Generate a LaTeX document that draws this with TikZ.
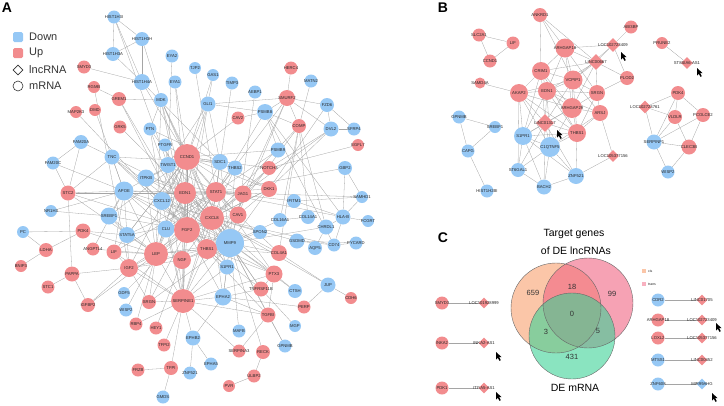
\documentclass[tikz,border=0pt]{standalone}
\usepackage{fontspec}
\setmainfont{Liberation Sans}
\usetikzlibrary{shapes.geometric,arrows.meta}
\pgfdeclarelayer{bg}
\pgfsetlayers{bg,main}
\definecolor{nb}{RGB}{150,200,245}
\definecolor{nr}{RGB}{242,140,142}
\definecolor{eg}{RGB}{165,165,165}
\definecolor{vl}{RGB}{248,160,110}
\definecolor{vr}{RGB}{240,100,130}
\definecolor{vg}{RGB}{60,210,150}
\tikzset{
 nd/.style={circle,inner sep=0pt,draw=none},
 dm/.style={diamond,inner sep=0pt,draw=none,aspect=1},
 lb/.style={font=\fontsize{4.2}{4.5}\selectfont,text=black!85,inner sep=0pt},
 ed/.style={draw=eg,line width=0.3pt},
 leg/.style={font=\fontsize{11}{12}\selectfont,text=black!80,anchor=west,inner sep=0pt},
 pl/.style={font=\fontsize{14}{14}\selectfont\bfseries,inner sep=0pt},
 vt/.style={font=\fontsize{10.5}{12}\selectfont,inner sep=0pt},
 vn/.style={font=\fontsize{7.5}{8}\selectfont,inner sep=0pt,text=black!80},
}
\newcommand\NB[5]{\node[nd,fill=nb,minimum size=#4pt,label={[lb]center:#5}] (#1) at (#2,#3) {};}
\newcommand\NR[5]{\node[nd,fill=nr,minimum size=#4pt,label={[lb]center:#5}] (#1) at (#2,#3) {};}
\newcommand\DR[5]{\node[dm,fill=nr,minimum size=#4pt,label={[lb]center:#5}] (#1) at (#2,#3) {};}
\newcommand\DB[5]{\node[dm,fill=nb,minimum size=#4pt,label={[lb]center:#5}] (#1) at (#2,#3) {};}
\newcommand\curs[2]{\fill[black] (#1,#2) -- ++(0,7.5) -- ++(1.8,-1.7) -- ++(1.7,3) -- ++(1.3,-0.7) -- ++(-1.7,-3) -- ++(2.5,0) -- cycle;}
\begin{document}
\begin{tikzpicture}[x=1pt,y=-1pt]
\useasboundingbox (0,0) rectangle (724,405);
% ---------------- Panel A ----------------
\node[pl] (labA) at (7,8) {A};
\node[fill=nb,rounded corners=1.5pt,minimum size=10pt,inner sep=0] (lg1) at (18,37) {};
\node[fill=nr,rounded corners=1.5pt,minimum size=10pt,inner sep=0] (lg2) at (18,53) {};
\node[diamond,draw=black!80,line width=0.6pt,minimum size=10pt,inner sep=0] (lg3) at (18,70) {};
\node[circle,draw=black!80,line width=0.6pt,minimum size=10pt,inner sep=0] (lg4) at (18,86) {};
\node[leg] (lt1) at (29,37) {Down};
\node[leg] (lt2) at (29,53) {Up};
\node[leg] (lt3) at (29,70) {lncRNA};
\node[leg] (lt4) at (29,86) {mRNA};

\NB{H3I}{114}{17}{13}{HIST1H3I}
\NB{H3H}{142}{39}{14}{HIST1H3H}
\NB{H3A}{113}{54}{14}{HIST1H3A}
\NB{H4A}{142}{82}{16}{HIST1H4A}
\NB{EYA2}{172}{56}{13}{EYA2}
\NB{EYA1}{175}{82}{13}{EYA1}
\NR{SMYD3}{84}{67}{13}{SMYD3}
\NR{RGMB}{94}{87}{12}{RGMB}
\NR{GREM1}{119}{99}{14}{GREM1}
\NB{MDK}{161}{100}{14}{MDK}
\NR{MAP2K3}{76}{112}{12}{MAP2K3}
\NR{DMD}{95}{110}{12}{DMD}
\NR{GRK5}{120}{127}{13}{GRK5}
\NB{PTN}{150}{129}{13}{PTN}
\NB{TJP2}{195}{68}{12}{TJP2}
\NB{GAS1}{213}{75}{12}{GAS1}
\NB{THBD}{232}{83}{13}{TIMP3}
\NB{AEBP1}{255}{92}{13}{AEBP1}
\NR{SMURF2}{287}{98}{16}{SMURF2}
\NR{HERC4}{291}{68}{13}{HERC4}
\NB{MATN2}{311}{81}{13}{MATN2}
\NB{GLI1}{208}{104}{15}{GLI1}
\NR{CAV2}{238}{118}{13}{CAV2}
\NB{PSMB8}{265}{112}{16}{PSMB8}
\NR{COMP}{299}{126}{14}{COMP}
\NB{FZD6}{327}{105}{14}{FZD6}
\NB{DVL2}{331}{129}{15}{DVL2}
\NB{SFRP4}{354}{129}{13}{SFRP4}
\NR{EGFL7}{358}{145}{12}{EGFL7}
\NB{FAM20A}{81}{142}{14}{FAM20A}
\NB{FAM20C}{53}{163}{13}{FAM20C}
\NB{TNC}{112}{157}{15}{TNC}
\NB{PTGFR}{165}{145}{13}{PTGFR}
\NR{CCND1}{187}{157}{26}{CCND1}
\NB{TWIST1}{168}{165}{16}{TWIST1}
\NB{ITPKB}{146}{178}{17}{ITPKB}
\NR{STC2}{68}{193}{15}{STC2}
\NB{APOE}{124}{191}{19}{APOE}
\NR{EDN1}{185}{193}{22}{EDN1}
\NB{CXCL12}{162}{201}{18}{CXCL12}
\NB{NR1H3}{51}{211}{12}{NR1H3}
\NB{SREBF1}{109}{216}{17}{SREBF1}
\NB{CLU}{166}{229}{17}{CLU}
\NR{FGF2}{187}{230}{26}{FGF2}
\NB{STAT5A}{127}{235}{16}{STAT5A}
\NB{PC}{23}{232}{12}{PC}
\NR{PDK4}{83}{231}{15}{PDK4}
\NR{ANGPTL4}{93}{249}{13}{ANGPTL4}
\NR{LIF}{114}{252}{15}{LIF}
\NR{LDHA}{46}{250}{14}{LDHA}
\NR{LEP}{156}{254}{24}{LEP}
\NR{NGF}{182}{260}{18}{NGF}
\NR{BNIP3}{21}{266}{12}{BNIP3}
\NR{IGF2}{129}{268}{18}{IGF2}
\NB{PSMB6}{278}{150}{15}{PSMB9}
\NB{SDC1}{220}{162}{16}{SDC1}
\NB{THBS2}{235}{168}{15}{THBS2}
\NR{NOTCH3}{269}{168}{14}{NOTCH3}
\NB{GBP2}{345}{168}{14}{GBP2}
\NR{STAT1}{216}{192}{20}{STAT1}
\NR{JAG1}{243}{194}{17}{JAG1}
\NR{DKK1}{269}{189}{16}{DKK1}
\NB{IFITM1}{294}{201}{14}{IFITM1}
\NB{SAMHD1}{362}{197}{12}{SAMHD1}
\NR{CXCL8}{212}{218}{24}{CXCL8}
\NR{CAV1}{238}{215}{17}{CAV1}
\NB{COL16A1}{280}{220}{14}{COL16A1}
\NB{COL14A1}{308}{217}{14}{COL14A1}
\NB{HLAB}{343}{217}{15}{HLA-B}
\NB{PCGRT}{368}{221}{12}{FCGRT}
\NB{SPON2}{260}{232}{14}{SPON2}
\NB{CHRDL1}{326}{227}{15}{CHRDL1}
\NB{MMP9}{230}{243}{28}{MMP9}
\NB{GSDMD}{297}{241}{15}{GSDMD}
\NB{AQP5}{315}{248}{14}{AQP5}
\NB{CD74}{334}{245}{13}{CD74}
\NB{PYCARD}{356}{243}{13}{PYCARD}
\NR{THBS1}{207}{249}{20}{THBS1}
\NR{COL4A1}{279}{253}{16}{COL4A1}
\NB{S1PR1}{227}{267}{15}{S1PR1}
\NR{PAPPA}{72}{274}{15}{PAPPA}
\NR{STC1}{48}{287}{13}{STC1}
\NB{GDF5}{124}{293}{12}{GDF5}
\NR{SRGN}{149}{302}{14}{SRGN}
\NR{SERPINE1}{183}{301}{24}{SERPINE1}
\NR{IGFBP2}{88}{305}{14}{IGFBP2}
\NB{WISP2}{126}{310}{13}{WISP2}
\NR{RBP4}{136}{324}{13}{RBP4}
\NR{HEY1}{156}{328}{13}{HEY1}
\NR{TFPI2}{164}{345}{13}{TFPI2}
\NR{TFPI}{171}{368}{14}{TFPI}
\NR{FRZB}{138}{370}{13}{FRZB}
\NB{GMDS}{163}{397}{13}{GMDS}
\NR{PTX3}{274}{274}{17}{PTX3}
\NB{EPHA2}{223}{297}{17}{EPHA2}
\NR{TNFR}{261}{289}{15}{TNFRSF11B}
\NB{CTSH}{295}{291}{14}{CTSH}
\NB{JUP}{328}{285}{15}{JUP}
\NR{CDH6}{351}{298}{12}{CDH6}
\NR{PERP}{304}{307}{13}{PERP}
\NR{TGFB}{268}{315}{15}{TGFBI}
\NB{MAFB}{239}{331}{13}{MAFB}
\NB{MGP}{295}{326}{12}{MGP}
\NB{EPHB2}{193}{338}{15}{EPHB2}
\NR{SERPINA3}{239}{351}{13}{SERPINA3}
\NR{RECK}{263}{352}{14}{RECK}
\NB{GPNMB}{285}{346}{13}{GPNMB}
\NB{EPHA5}{211}{364}{13}{EPHA5}
\NB{ZNF521}{190}{373}{13}{ZNF521}
\NR{ULBP2}{254}{376}{13}{ULBP2}
\NR{PVR}{229}{386}{12}{PVR}

\begin{pgfonlayer}{bg}
\foreach \a/\b in {H3I/H3H,H3I/H3A,H3I/H4A,H3H/H3A,H3H/H4A,H3A/H4A,H3I/TWIST1,H3H/MDK,H4A/CCND1,H4A/SMYD3,H4A/SDC1,
EYA2/TWIST1,EYA1/CCND1,EYA1/EDN1,TJP2/STAT1,GAS1/CCND1,GAS1/GLI1,THBD/CXCL8,AEBP1/CAV1,HERC4/SMURF2,
SMURF2/GLI1,SMURF2/FZD6,SMURF2/PSMB8,SMURF2/DVL2,SMURF2/COMP,SMURF2/JAG1,SMURF2/CAV1,SMURF2/STAT1,MATN2/COMP,
GLI1/CCND1,GLI1/PSMB8,GLI1/TWIST1,GLI1/EDN1,GLI1/FGF2,GLI1/SDC1,CAV2/CCND1,CAV2/PSMB8,
PSMB8/PSMB6,PSMB8/STAT1,PSMB8/CD74,PSMB8/HLAB,PSMB8/COMP,COMP/THBS1,COMP/CXCL8,COMP/CHRDL1,COMP/COL4A1,
FZD6/DVL2,FZD6/DKK1,DVL2/SFRP4,DVL2/DKK1,DVL2/JAG1,DVL2/NOTCH3,SFRP4/FZD6,EGFL7/NOTCH3,
MDK/PTN,MDK/GREM1,MDK/CCND1,MDK/FGF2,MDK/EDN1,MDK/LEP,MDK/CXCL8,MDK/MMP9,PTN/FGF2,PTN/CXCL12,PTN/SDC1,PTN/MMP9,
GREM1/FGF2,GREM1/THBS1,RGMB/GREM1,RGMB/IGF2,MAP2K3/FGF2,DMD/APOE,GRK5/CXCL8,
FAM20A/FAM20C,FAM20A/STC2,FAM20A/TNC,FAM20C/STC2,FAM20C/APOE,
TNC/MMP9,TNC/EDN1,TNC/FGF2,TNC/CXCL12,TNC/STC2,TNC/SDC1,TNC/APOE,
PTGFR/CCND1,PTGFR/FGF2,PTGFR/TWIST1,TWIST1/CCND1,TWIST1/FGF2,TWIST1/CXCL12,TWIST1/EDN1,TWIST1/MMP9,TWIST1/SERPINE1,TWIST1/STAT1,
ITPKB/CCND1,ITPKB/EDN1,ITPKB/STAT1,ITPKB/CXCL8,ITPKB/LEP,
STC2/APOE,STC2/PAPPA,STC2/EDN1,STC2/FGF2,STC2/LEP,
APOE/SREBF1,APOE/LEP,APOE/CLU,APOE/CCND1,APOE/EDN1,APOE/MMP9,APOE/STAT5A,APOE/LIF,APOE/CXCL8,APOE/FGF2,APOE/STAT1,NR1H3/SREBF1,NR1H3/APOE,
CXCL12/CCND1,CXCL12/EDN1,CXCL12/FGF2,CXCL12/MMP9,CXCL12/CXCL8,CXCL12/LEP,CXCL12/SERPINE1,CXCL12/STAT1,CXCL12/THBS1,
SREBF1/LEP,SREBF1/STAT5A,SREBF1/CCND1,SREBF1/FGF2,
CLU/FGF2,CLU/LEP,CLU/MMP9,CLU/SERPINE1,CLU/STAT1,CLU/EDN1,
STAT5A/LEP,STAT5A/CCND1,STAT5A/STAT1,STAT5A/IGF2,STAT5A/CXCL8,
PC/PDK4,PC/LDHA,PDK4/STAT5A,PDK4/LEP,PDK4/LDHA,ANGPTL4/APOE,ANGPTL4/LEP,
LIF/LEP,LIF/CCND1,LIF/IGF2,LIF/SERPINE1,LIF/STAT1,LDHA/BNIP3,
LEP/FGF2,LEP/CCND1,LEP/EDN1,LEP/MMP9,LEP/CXCL8,LEP/STAT1,LEP/NGF,LEP/SERPINE1,LEP/IGF2,LEP/THBS1,
NGF/FGF2,NGF/MMP9,NGF/SERPINE1,NGF/CXCL8,NGF/IGF2,NGF/EDN1,
IGF2/PAPPA,IGF2/IGFBP2,IGF2/FGF2,IGF2/SERPINE1,IGF2/MMP9,IGF2/CCND1,IGF2/SRGN,
PAPPA/STC1,PAPPA/IGFBP2,IGFBP2/LEP,GDF5/FGF2,SRGN/SERPINE1,SRGN/FGF2,SRGN/LEP,SRGN/MMP9,WISP2/LEP,
RBP4/LEP,RBP4/SERPINE1,HEY1/NGF,TFPI2/SERPINE1,TFPI/SERPINE1,TFPI/FRZB,TFPI/GMDS,
SERPINE1/FGF2,SERPINE1/MMP9,SERPINE1/THBS1,SERPINE1/CXCL8,SERPINE1/EPHA2,SERPINE1/EDN1,SERPINE1/STAT1,SERPINE1/TGFB,SERPINE1/CCND1,SERPINE1/S1PR1,SERPINE1/SERPINA3,SERPINE1/PTX3,SERPINE1/EPHB2,
EPHA2/MMP9,EPHA2/S1PR1,EPHA2/CXCL8,EPHA2/TNFR,EPHA2/FGF2,EPHA2/PERP,EPHB2/EPHA5,EPHB2/ZNF521,EPHB2/EPHA2,
MAFB/MMP9,SERPINA3/TGFB,RECK/MMP9,RECK/ULBP2,ULBP2/PVR,
TGFB/MMP9,TGFB/FGF2,TGFB/PTX3,TGFB/GPNMB,TGFB/EPHA2,GPNMB/MMP9,MGP/TNFR,PERP/JUP,CDH6/JUP,JUP/COL4A1,JUP/CXCL8,
CTSH/PTX3,CTSH/MMP9,TNFR/PTX3,TNFR/MMP9,TNFR/FGF2,TNFR/CXCL8,
PTX3/MMP9,PTX3/CXCL8,PTX3/FGF2,PTX3/STAT1,PTX3/THBS1,
S1PR1/MMP9,S1PR1/FGF2,S1PR1/EDN1,S1PR1/CXCL8,
COL4A1/MMP9,COL4A1/CAV1,COL4A1/THBS1,COL4A1/CXCL8,SPON2/MMP9,SPON2/CXCL8,
GSDMD/PYCARD,GSDMD/CXCL8,GSDMD/CD74,AQP5/CHRDL1,CD74/HLAB,CD74/CXCL8,PYCARD/CD74,
HLAB/GBP2,HLAB/IFITM1,HLAB/SAMHD1,HLAB/STAT1,HLAB/PCGRT,GBP2/STAT1,GBP2/SAMHD1,SAMHD1/IFITM1,SAMHD1/STAT1,IFITM1/STAT1,
COL16A1/COL14A1,COL16A1/MMP9,COL16A1/COMP,COL14A1/COMP,CHRDL1/HLAB,CHRDL1/MMP9,
DKK1/CCND1,DKK1/STAT1,DKK1/CXCL8,DKK1/MMP9,DKK1/CAV1,DKK1/FGF2,DKK1/SDC1,
NOTCH3/JAG1,NOTCH3/CCND1,NOTCH3/CXCL8,
JAG1/STAT1,JAG1/CCND1,JAG1/MMP9,JAG1/CXCL8,JAG1/FGF2,JAG1/CAV1,JAG1/EDN1,
CAV1/CXCL8,CAV1/MMP9,CAV1/FGF2,CAV1/STAT1,CAV1/EDN1,CAV1/CCND1,CAV1/THBS1,
THBS2/MMP9,THBS2/FGF2,THBS2/CXCL8,THBS2/CCND1,SDC1/CCND1,SDC1/FGF2,SDC1/MMP9,SDC1/CXCL8,SDC1/STAT1,
PSMB6/STAT1,PSMB6/CCND1,
CCND1/EDN1,CCND1/FGF2,CCND1/CXCL8,CCND1/STAT1,CCND1/MMP9,CCND1/LEP,CCND1/THBS1,
EDN1/FGF2,EDN1/CXCL8,EDN1/STAT1,EDN1/MMP9,EDN1/THBS1,
FGF2/CXCL8,FGF2/MMP9,FGF2/THBS1,FGF2/STAT1,CXCL8/STAT1,CXCL8/MMP9,CXCL8/THBS1,STAT1/MMP9,MMP9/THBS1,THBS1/LEP,THBS1/NGF,THBS1/S1PR1}
{\draw[ed] (\a) -- (\b);}
\end{pgfonlayer}

% ---------------- Panel B ----------------
\node[pl] (labB) at (443,8) {B};
\NR{bSLC}{479}{35}{13}{SLC2A1}
\NR{bLIF}{513}{43}{13}{LIF}
\NR{bCCND}{490}{61}{13}{CCND1}
\NR{bSAMD}{480}{83}{11}{SAMD4A}
\NR{bANK}{540}{15}{14}{ANKRD1}
\NR{bCRIM}{541}{71}{18}{CRIM1}
\NR{bAKAP}{519}{93}{18}{AKAP2}
\NR{bEDN}{547}{91}{18}{EDN1}
\NB{bGPN}{459}{117}{13}{GPNMB}
\NR{bABI}{631}{27}{13}{ABI3BP}
\DR{bL409}{613}{45}{14}{LOC102723409}
\NR{bA18}{565}{48}{19}{ARHGAP18}
\DR{bL667}{596}{62}{16}{LINC00667}
\NR{bVCP}{573}{80}{19}{VCPIP1}
\NR{bPLOD}{627}{78}{14}{PLOD2}
\NR{bSRGN}{597}{93}{16}{SRGN}
\NR{bPRU}{662}{43}{12}{PRUNE2}
\DR{bST8}{687}{63}{12}{ST8SIA6-AS1}
\NR{bPDK}{678}{93}{14}{PDK4}
\NR{bA29}{572}{108}{20}{ARHGAP29}
\NR{bARSJ}{600}{113}{16}{ARSJ}
\DR{bL761}{645}{107}{13}{LOC102723761}
\NR{bVLD}{675}{117}{14}{VLDLR}
\NR{bPCO}{703}{115}{14}{PCOLCE2}
\NB{bSRE}{495}{127}{12}{SREBF1}
\NB{bCAPG}{468}{151}{13}{CAPG}
\NB{bH2BI}{487}{191}{13}{HIST1H2BI}
\DR{bL1317}{545}{123}{18}{LINC01317}
\NB{bS1P}{523}{136}{18}{S1PR1}
\NB{bC1Q}{550}{147}{20}{C1QTNF5}
\NB{bST6}{518}{170}{14}{ST6GAL1}
\NB{bBACH}{544}{187}{15}{BACH2}
\NR{bTHBS}{577}{133}{18}{THBS1}
\NB{bZNF}{576}{176}{16}{ZNF521}
\DR{bL156}{613}{156}{12}{LOC105377156}
\NB{bSERF}{654}{142}{15}{SERPINF1}
\NR{bCLEC}{689}{147}{15}{CLEC3B}
\NB{bWISP}{668}{172}{13}{WISP2}
\begin{pgfonlayer}{bg}
\foreach \a/\b in {bSLC/bLIF,bSLC/bCCND,bLIF/bCCND,bSAMD/bAKAP,bGPN/bSRE,bGPN/bCAPG,bSRE/bCAPG,bCAPG/bH2BI,
bANK/bCRIM,bANK/bA18,bANK/bVCP,bANK/bL667,bABI/bL409,bL409/bA18,bL409/bL667,bL409/bPLOD,bL409/bVCP,
bL667/bA18,bL667/bVCP,bL667/bSRGN,bL667/bPLOD,bL667/bCRIM,bL667/bEDN,bL667/bA29,bPLOD/bSRGN,
bCRIM/bAKAP,bCRIM/bEDN,bCRIM/bA18,bCRIM/bVCP,bCRIM/bL1317,bCRIM/bS1P,bCRIM/bA29,bCRIM/bTHBS,
bAKAP/bEDN,bAKAP/bL1317,bAKAP/bS1P,bAKAP/bC1Q,bAKAP/bVCP,bAKAP/bA29,bAKAP/bTHBS,bAKAP/bST6,
bEDN/bA18,bEDN/bVCP,bEDN/bSRGN,bEDN/bL1317,bEDN/bA29,bEDN/bARSJ,bEDN/bTHBS,bEDN/bC1Q,bEDN/bS1P,
bA18/bVCP,bA18/bSRGN,bA18/bA29,bVCP/bSRGN,bVCP/bA29,bVCP/bARSJ,bVCP/bL1317,bVCP/bTHBS,
bSRGN/bARSJ,bSRGN/bA29,bSRGN/bTHBS,bA29/bARSJ,bA29/bL1317,bA29/bTHBS,bA29/bC1Q,bA29/bS1P,
bARSJ/bTHBS,bARSJ/bL156,bARSJ/bC1Q,bL1317/bS1P,bL1317/bC1Q,bL1317/bTHBS,bL1317/bZNF,bL1317/bBACH,bL1317/bST6,
bS1P/bC1Q,bS1P/bST6,bS1P/bBACH,bS1P/bZNF,bS1P/bTHBS,bC1Q/bTHBS,bC1Q/bZNF,bC1Q/bBACH,bC1Q/bST6,
bST6/bBACH,bBACH/bZNF,bTHBS/bZNF,bZNF/bL156,bPRU/bST8,
bPDK/bL761,bPDK/bVLD,bPDK/bPCO,bPDK/bSERF,bL761/bVLD,bL761/bSERF,bVLD/bSERF,bVLD/bCLEC,bPCO/bCLEC,bPCO/bSERF,bSERF/bCLEC,bSERF/bWISP,bCLEC/bWISP}
{\draw[ed] (\a) -- (\b);}
\end{pgfonlayer}
\curs{621}{52}
\curs{697}{68}
\curs{557}{130}

% ---------------- Panel C ----------------
\node[pl] (labC) at (443,238) {C};
\node[vt] (vt1) at (574,234) {Target genes};
\node[vt] (vt2) at (576,251) {of DE lncRNAs};
\fill[vl,fill opacity=0.6] (556,308) circle (45);
\fill[vr,fill opacity=0.6] (588,303) circle (45);
\fill[vg,fill opacity=0.6] (572,336) circle (43);
\draw[black!60,line width=0.4pt] (556,308) circle (45) (588,303) circle (45) (572,336) circle (43);
\node[vn] (n1) at (533,293) {659};
\node[vn] (n2) at (572,287) {18};
\node[vn] (n3) at (612,294) {99};
\node[vn] (n4) at (572,314) {0};
\node[vn] (n5) at (546,332) {3};
\node[vn] (n6) at (598,331) {5};
\node[vn] (n7) at (572,357) {431};
\node[vt] (vt3) at (575,388) {DE mRNA};
\node[fill=vl!60,minimum size=4pt,inner sep=0] (k1) at (644,271) {};
\node[fill=vr!50,minimum size=4pt,inner sep=0] (k2) at (644,284) {};
\node[lb,anchor=west,font=\fontsize{3.5}{4}\selectfont] (k1t) at (648,271) {cis};
\node[lb,anchor=west,font=\fontsize{3.5}{4}\selectfont] (k2t) at (648,284) {trans};

\NR{c1a}{442}{303}{13}{SMYD3}
\DR{c1b}{484}{303}{11}{LOC101928999}
\NR{c2a}{442}{343}{13}{INKA2}
\DR{c2b}{484}{343}{11}{INKA2-AS1}
\NR{c3a}{442}{388}{13}{PDK1}
\DR{c3b}{484}{388}{11}{ITGA5-AS1}
\NB{c4a}{658}{300}{13}{CDR2}
\DR{c4b}{702}{300}{11}{LINC01705}
\NR{c5a}{658}{320}{13}{ARHGAP18}
\DR{c5b}{702}{320}{11}{LOC102723409}
\NR{c6a}{658}{338}{13}{LOXL2}
\DR{c6b}{702}{338}{11}{LOC105377156}
\NB{c7a}{658}{360}{13}{MTSS1}
\DR{c7b}{702}{360}{11}{LINC00452}
\NB{c8a}{658}{384}{13}{ZNF608}
\DB{c8b}{702}{384}{11}{MIR99AHG}
\begin{pgfonlayer}{bg}
\foreach \a/\b in {c1a/c1b,c2a/c2b,c3a/c3b,c4a/c4b,c5a/c5b,c6a/c6b,c7a/c7b,c8a/c8b}
{\draw[ed] (\a) -- (\b);}
\end{pgfonlayer}
\curs{496}{352}
\curs{496}{392}
\curs{716}{323}
\curs{712}{393}
\end{tikzpicture}
\end{document}
